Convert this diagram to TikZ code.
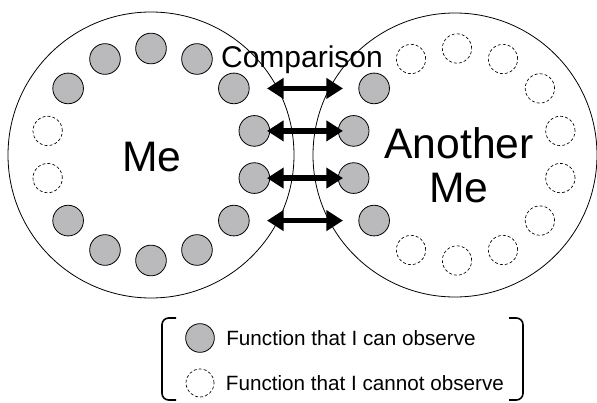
\documentclass[tikz,border=0pt]{standalone}
\usepackage{fontspec}
\setmainfont{Liberation Sans}
\usetikzlibrary{arrows.meta,positioning}
\definecolor{fngray}{RGB}{186,186,188}
\tikzset{
  self/.style={circle,draw,line width=0.6pt,minimum size=214.5pt,inner sep=0pt},
  seen/.style={circle,draw,fill=fngray,line width=0.6pt,minimum size=23pt,inner sep=0pt},
  unseen/.style={circle,draw,dash pattern={on 2.2pt off 1.6pt},line width=0.5pt,minimum size=22pt,inner sep=0pt},
  compare/.style={line width=4.2pt,{Triangle[length=12.5pt,width=15pt]}-{Triangle[length=12.5pt,width=15pt]}},
  bracket/.style={line width=1.2pt,rounded corners=5pt},
}
\begin{document}
\begin{tikzpicture}[x=0.75pt,y=0.75pt,yscale=-1,xscale=1]
\useasboundingbox (0,0) rectangle (597,403);

%Shape: Circle [Me]
\node (me) [self] at (151,155) {};
%Shape: Circle [Another Me]
\node (other) [self,minimum size=213pt] at (455,155) {};

\coordinate (mering) at (151,154.5);
\coordinate (otherring) at (457,154.5);

%Shape: Circles round Me
\foreach \k/\s in {0/seen,1/seen,2/seen,3/seen,4/seen,5/seen,6/seen,7/seen,8/seen,9/seen,10/unseen,11/unseen,12/seen,13/seen}
  \node (m\k) [\s] at ([shift={(\k*360/14-90:106)}]mering) {};
%Shape: Circles round Another Me
\foreach \k/\s in {0/unseen,1/unseen,2/unseen,3/unseen,4/unseen,5/unseen,6/unseen,7/unseen,8/unseen,9/seen,10/seen,11/seen,12/seen,13/unseen}
  \node (o\k) [\s] at ([shift={(\k*360/14-90:106)}]otherring) {};

% Text Node
\node (melabel) [font=\fontsize{32}{33}\selectfont] at (152,157) {Me};
% Text Node
\node (otherlabel) [font=\fontsize{32}{33}\selectfont,align=center] at (459,165) {Another\\Me};
% Text Node
\node (cmp) [font=\fontsize{22.5}{24}\selectfont,inner sep=0pt] at (302,60) {Comparison};

%Straight Lines [arrows]
\coordinate (tipL) at (267,0);
\coordinate (tipR) at (343,0);
\foreach \k in {2,...,5}
  \draw [compare] (tipL |- m\k) -- (tipR |- m\k);

%Shape: Brackets
\draw [bracket] (176,318) -- (162,318) -- (162,400) -- (176,400);
\draw [bracket] (509,318) -- (523,318) -- (523,400) -- (509,400);

%Legend
\node (keyseen) [seen,minimum size=21.5pt] at (200,338) {};
\node (keyunseen) [unseen,minimum size=21pt] at (200,383) {};
\node (txtseen) [right=8.5pt of keyseen,inner sep=0pt,font=\fontsize{15.5}{17}\selectfont] {Function that I can observe};
\node (txtunseen) [right=8.5pt of keyunseen,inner sep=0pt,font=\fontsize{15.5}{17}\selectfont] {Function that I cannot observe};

\end{tikzpicture}
\end{document}
